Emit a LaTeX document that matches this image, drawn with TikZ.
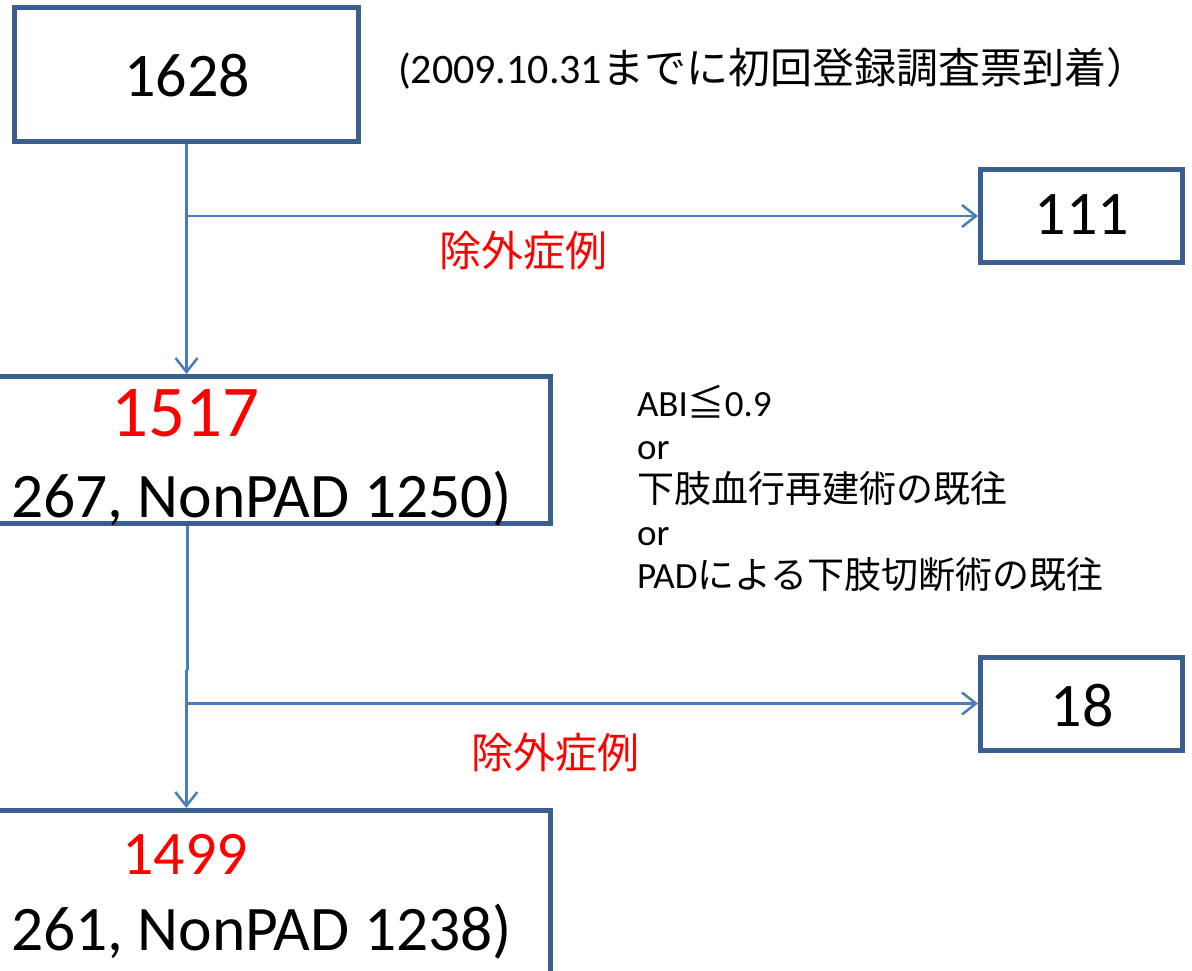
\documentclass[tikz,border=0pt]{standalone}
\usepackage{fontspec}
\setmainfont{Carlito}
\newfontfamily\jp{Noto Sans CJK JP}
\usetikzlibrary{arrows.meta}
\definecolor{boxblue}{HTML}{3A5F8E}
\definecolor{lineblue}{HTML}{4A7EBB}
\definecolor{txtred}{HTML}{FF0000}
\newcommand{\jpc}{\jp\fontsize{37}{42}\selectfont}
\begin{document}
\begin{tikzpicture}[x=1pt,y=-1pt,
  box/.style={draw=boxblue, line width=5pt, rectangle, inner sep=0pt, fill=white},
  conn/.style={draw=lineblue, line width=2.5pt},
  arr/.style={conn, -{Straight Barb[length=14pt,width=22pt]}},
  plain/.style={inner sep=0pt, outer sep=0pt},
  big/.style={plain, font=\fontsize{62}{70}\selectfont},
  lbl/.style={plain, text=txtred, font=\jp\fontsize{42}{48}\selectfont},
  cond/.style={plain, anchor=base west, font=\fontsize{37}{42}\selectfont}]
\useasboundingbox (0,0) rectangle (1192,970);
\clip (0,0) rectangle (1192,970);

% boxes
\node[box, minimum width=344pt, minimum height=134pt] (b1628) at (186.5,74.5) {};
\node[box, minimum width=202pt, minimum height=93pt] (b111) at (1081.5,216) {};
\node[box, minimum width=733pt, minimum height=147pt] (b1517) at (184,450) {};
\node[box, minimum width=202pt, minimum height=93pt] (b18) at (1081.5,703.5) {};
\node[box, minimum width=733pt, minimum height=200pt] (b1499) at (184,910.5) {};

% box texts
\node[big] (t1628) at (187,76) {1628};
\node[big] (t111) at (1082,215) {111};
\node[big] (t18) at (1082,706) {18};
\node[plain, text=txtred, font=\fontsize{73}{80}\selectfont] (t1517) at (185,413) {1517};
\node[plain, anchor=base east, font=\fontsize{63.5}{72}\selectfont] (t1517b) at (512,517) {267, NonPAD 1250)};
\node[plain, text=txtred, font=\fontsize{62}{70}\selectfont] (t1499) at (185,854) {1499};
\node[plain, anchor=base east, font=\fontsize{63.5}{72}\selectfont] (t1499b) at (512,950) {261, NonPAD 1238)};

% header note
\node[plain, anchor=base west] (note) at (398,83)
  {\fontsize{42}{48}\selectfont (2009.10.31{\jp\fontsize{42}{48}\selectfont までに初回登録調査票到着）}};

% exclusion labels
\node[lbl] (ex1) at (523,251) {除外症例};
\node[lbl] (ex2) at (555,753) {除外症例};

% criteria
\node[cond] (c1) at (637,416) {ABI{\jpc ≦}0.9};
\node[cond] (c2) at (637,459) {or};
\node[cond] (c3) at (637,502) {\jpc 下肢血行再建術の既往};
\node[cond] (c4) at (637,545) {or};
\node[cond] (c5) at (637,588) {PAD{\jpc による下肢切断術の既往}};

% connectors
\draw[arr] (b1628.south) -- (b1628.south |- b1517.north);
\coordinate (j1) at (b1628.south |- b111.west);
\draw[arr] (j1) -- (b111.west);
\coordinate (k1) at (187.5,670);
\coordinate (k2) at (186.3,670);
\draw[conn] (b1517.south -| k1) -- (k1);
\draw[arr] (k2) -- (k2 |- b1499.north);
\coordinate (j2) at (k2 |- b18.west);
\draw[arr] (j2) -- (b18.west);
\end{tikzpicture}
\end{document}
